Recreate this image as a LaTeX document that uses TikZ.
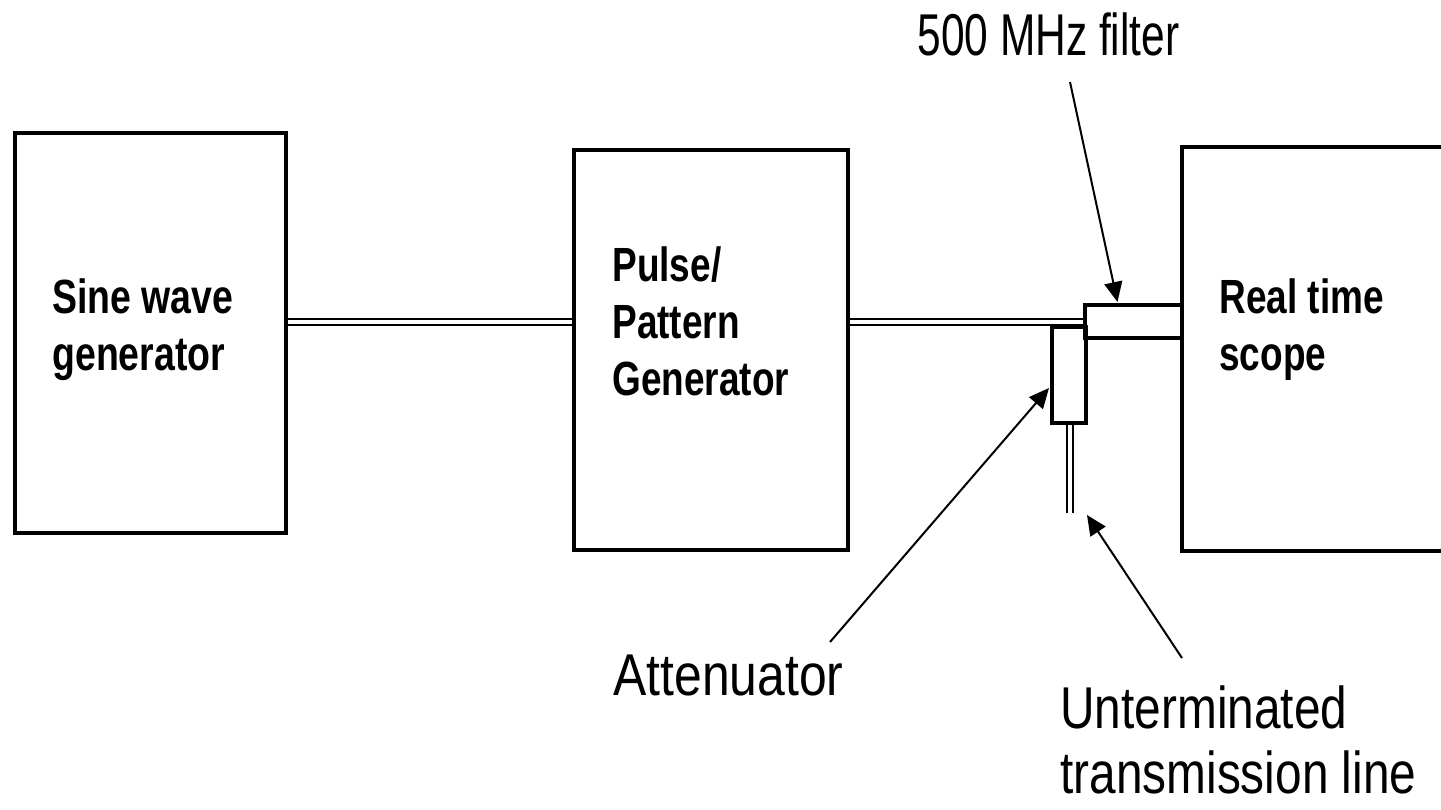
\documentclass[tikz,border=0pt]{standalone}
\usepackage{fontspec}
\setmainfont{Liberation Sans}
\usetikzlibrary{arrows.meta,calc}
\tikzset{
  box/.style={draw, line width=2pt, inner sep=0pt},
  dbl/.style={double, line width=0.9pt, double distance=1.8pt},
  arr/.style={line width=1pt, -{Triangle[length=10pt,width=9pt]}},
  blab/.style={anchor=base west, inner sep=0pt, font=\bfseries\fontsize{24}{28.5}\selectfont},
  rlab/.style={anchor=base west, inner sep=0pt, font=\fontsize{29.5}{32.5}\selectfont},
}
\newcommand{\mlines}[2]{\scalebox{#1}[1]{\begin{tabular}[t]{@{}l@{}}#2\end{tabular}}}
\begin{document}
\begin{tikzpicture}[x=0.5pt,y=-0.5pt]
\useasboundingbox (0,0) rectangle (1441,809);
\clip (0,0) rectangle (1441,809);
% boxes
\node[box, minimum width=135.75pt, minimum height=200pt] (sine) at (150.25,333) {};
\node[box, minimum width=137pt, minimum height=200pt] (pg) at (711,350) {};
\node[box, minimum width=139pt, minimum height=202pt] (scope) at (1321,349) {};
\node[box, minimum width=48.5pt, minimum height=16.5pt] (filter) at (1133.5,321.5) {};
\node[box, minimum width=17pt, minimum height=48pt] (att) at (1069,375) {};
% box texts
\node[blab] (sinet) at (52,313) {\mlines{0.78}{Sine wave\\generator}};
\node[blab] (pgt) at (612,281) {\mlines{0.77}{Pulse/\\Pattern\\Generator}};
\node[blab] (scopet) at (1219,313) {\mlines{0.77}{Real time\\scope}};
% labels
\node[rlab] (filtl) at (917,55) {\mlines{0.72}{500 MHz filter}};
\node[rlab] (attl) at (613,695) {\mlines{0.845}{Attenuator}};
\node[rlab] (tll) at (1060,728) {\mlines{0.81}{Unterminated\\transmission line}};
% transmission lines
\coordinate (tlend) at (1070,513);
\draw[dbl] (sine.east |- 0,322) -- (pg.west |- 0,322);
\draw[dbl] (pg.east |- 0,322) -- (filter.west |- 0,322);
\draw[dbl] (att.south -| tlend) -- (tlend);
% pointer arrows
\coordinate (filtail) at (1070,82);
\coordinate (atttail) at (830,642);
\coordinate (tltail) at (1182,658);
\draw[arr] (filtail) -- ($(filter.north)+(-16,-1)$);
\draw[arr] (atttail) -- ($(att.west)+(-1,13)$);
\draw[arr] (tltail) -- ($(tlend)+(17,2)$);
\end{tikzpicture}
\end{document}
